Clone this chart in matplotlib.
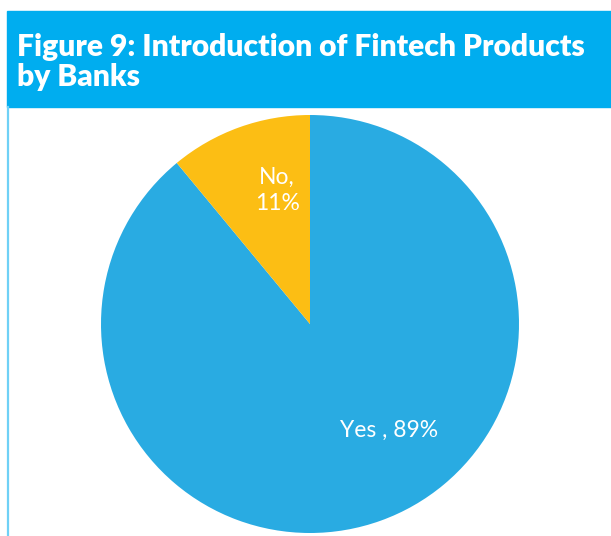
import matplotlib
matplotlib.use("Agg")
import matplotlib.pyplot as plt
from matplotlib.patches import Rectangle
from matplotlib.lines import Line2D

title = "Figure 9: Introduction of Fintech Products\nby Banks"
labels = ["Yes", "No"]
shares = [89, 11]
colors = ["#29ABE2", "#FCBE14"]

W, H = 611, 536
fig = plt.figure(figsize=(W / 100, H / 100), dpi=100)

# title banner and left rule
fig.patches.append(Rectangle((7 / W, (H - 107) / H), 1 - 7 / W, 96 / H,
                             transform=fig.transFigure, color="#00ADEF", zorder=0))
fig.lines.append(Line2D([8 / W, 8 / W], [0, (H - 107) / H], transform=fig.transFigure,
                        color="#6FD1F6", lw=1.6))
fig.text(17 / W, (H - 62) / H, title, color="white", fontsize=21.6, fontweight="heavy",
         family="Lato", va="center", ha="left", linespacing=1.12)

r = 209
ax = fig.add_axes([(310 - r) / W, (H - 324 - r) / H, 2 * r / W, 2 * r / H])
wedges, _ = ax.pie(shares, colors=colors, startangle=90, counterclock=False,
                   wedgeprops=dict(linewidth=0))
ax.set_aspect("equal")
ax.set_xlim(-1, 1)
ax.set_ylim(-1, 1)

ax.text(-0.157, 0.64, f"{labels[1]},\n{shares[1]}%", color="white", fontsize=16.5,
        family="Lato", ha="center", va="center", linespacing=1.3)
ax.text(0.376, -0.51, f"{labels[0]} , {shares[0]}%", color="white", fontsize=16.5,
        family="Lato", ha="center", va="center")

fig.savefig("out.png", dpi=100)
